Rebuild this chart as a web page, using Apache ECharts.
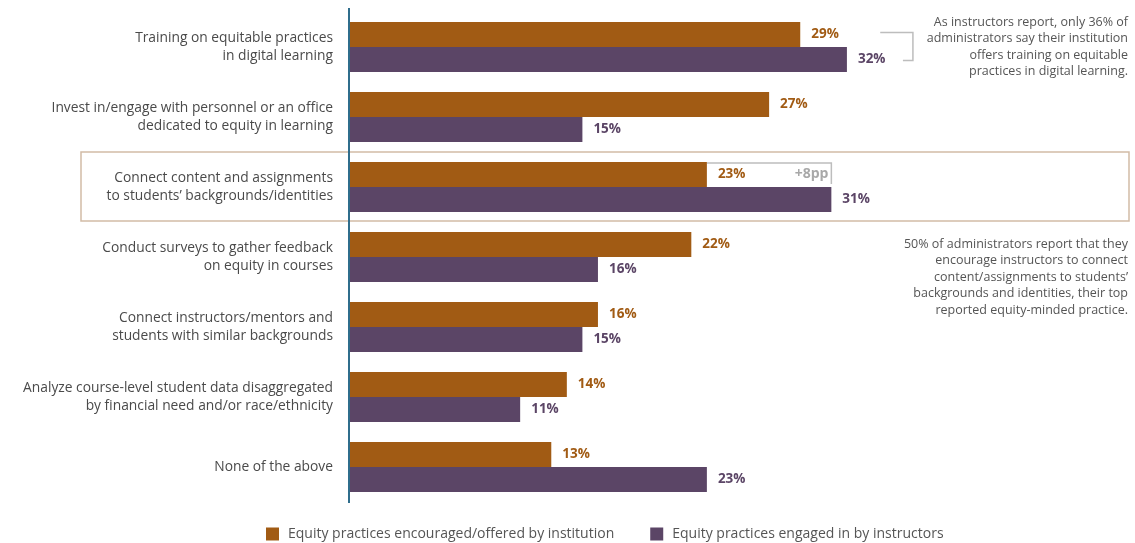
<!DOCTYPE html>
<html><head><meta charset="utf-8">
<script src="https://cdn.jsdelivr.net/npm/echarts@6/dist/echarts.min.js"></script>
<style>html,body{margin:0;padding:0;background:#fff}#c{width:1135px;height:543px}</style>
</head><body><div id="c"></div>
<script>
const categories = [
  "Training on equitable practices\nin digital learning",
  "Invest in/engage with personnel or an office\ndedicated to equity in learning",
  "Connect content and assignments\nto students\u2019 backgrounds/identities",
  "Conduct surveys to gather feedback\non equity in courses",
  "Connect instructors/mentors and\nstudents with similar backgrounds",
  "Analyze course-level student data disaggregated\nby financial need and/or race/ethnicity",
  "None of the above"
];
const institution = [29, 27, 23, 22, 16, 14, 13];
const instructors = [32, 15, 31, 16, 15, 11, 23];
const seriesNames = ["Equity practices encouraged/offered by institution", "Equity practices engaged in by instructors"];
const note1 = "As instructors report, only 36% of\nadministrators say their institution\noffers training on equitable\npractices in digital learning.";
const note2 = "50% of administrators report that they\nencourage instructors to connect\ncontent/assignments to students\u2019\nbackgrounds and identities, their top\nreported equity-minded practice.";

const FONT = "Open Sans";
const ORANGE = "#A15B14", PURPLE = "#5B4566";
const chart = echarts.init(document.getElementById('c'));
chart.setOption({
  animation: false,
  textStyle: {fontFamily: FONT},
  grid: {left: 349, right: 8, top: 12, bottom: 41, containLabel: false},
  xAxis: {type: 'value', min: 0, max: 50, show: false},
  yAxis: {type: 'category', data: categories, inverse: true,
    axisLine: {show: true, lineStyle: {color: '#2F6D8C', width: 2}},
    axisTick: {show: false},
    axisLabel: {margin: 16, fontSize: 13.8, lineHeight: 18, color: '#4a4a4a', fontFamily: FONT}
  },
  legend: {left: 261, top: 522, itemWidth: 13, itemHeight: 13, icon: 'rect', itemGap: 36,
    textStyle: {fontSize: 14, color: '#555', fontFamily: FONT, padding: [0, 0, 0, 4]},
    data: seriesNames},
  series: [
    {name: seriesNames[0], type: 'bar', data: institution, barWidth: 25, barGap: '0%',
     itemStyle: {color: ORANGE},
     label: {show: true, position: 'right', distance: 11, formatter: '{c}%', fontWeight: 'bold', fontSize: 13.5, color: ORANGE, fontFamily: FONT}},
    {name: seriesNames[1], type: 'bar', data: instructors, barWidth: 25,
     itemStyle: {color: PURPLE},
     label: {show: true, position: 'right', distance: 11, formatter: '{c}%', fontWeight: 'bold', fontSize: 13.5, color: PURPLE, fontFamily: FONT}}
  ]
});

const px = (v, cat) => chart.convertToPixel({gridIndex: 0}, [v, cat]);
const c0 = px(0, 0), c2 = px(0, 2), c6 = px(0, 6);
const half = 12.5;
const p29 = px(institution[0], 0), p32 = px(instructors[0], 0);
const p23 = px(institution[2], 2), p31 = px(instructors[2], 2);
const gray = '#BDBDBD';
chart.setOption({graphic: [
  {type: 'line', shape: {x1: c0[0], y1: c0[1] - 39, x2: c0[0], y2: c6[1] + 36}, style: {stroke: '#2F6D8C', lineWidth: 2}, z: 10},
  {type: 'rect', shape: {x: 81, y: c2[1] - 35, width: 1048, height: 69}, style: {fill: 'none', stroke: '#D2BCA6', lineWidth: 1.5}, z: 0},
  {type: 'polyline', shape: {points: [[p29[0] + 80, c0[1] - half - 2], [p32[0] + 66, c0[1] - half - 2], [p32[0] + 66, c0[1] + half + 1], [p32[0] + 56, c0[1] + half + 1]]}, style: {stroke: gray, lineWidth: 1.5, fill: 'none'}},
  {type: 'polyline', shape: {points: [[p23[0], c2[1] - 2 * half + 1], [p31[0], c2[1] - 2 * half + 1], [p31[0], c2[1] - 3]]}, style: {stroke: gray, lineWidth: 1.5, fill: 'none'}},
  {type: 'text', x: p31[0] - 3, y: c2[1] - half, style: {text: '+8pp', fill: '#A8A8A8', font: 'bold 14px ' + FONT, align: 'right', verticalAlign: 'middle'}},
  {type: 'text', x: 1128, y: 14, style: {text: note1, fill: '#555', font: '12.5px ' + FONT, align: 'right', lineHeight: 16.5}},
  {type: 'text', x: 1128, y: 236, style: {text: note2, fill: '#555', font: '12.5px ' + FONT, align: 'right', lineHeight: 16.5}}
]});
</script></body></html>
